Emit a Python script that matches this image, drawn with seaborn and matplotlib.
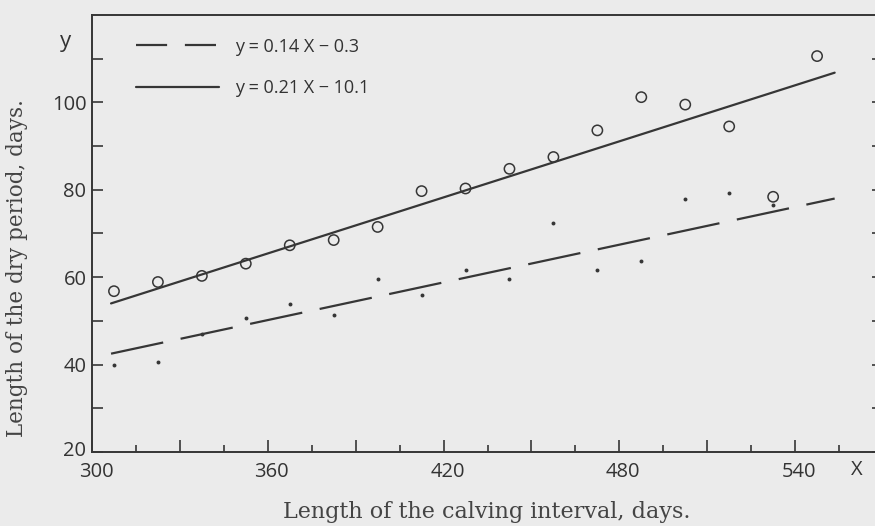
#!/usr/bin/env python3

import pandas as pd
import matplotlib.pyplot as plt
from matplotlib.lines import Line2D
from matplotlib.ticker import MultipleLocator, FixedLocator
from matplotlib.transforms import ScaledTranslation
import seaborn as sns

# calving interval class midpoints, days
interval = [307.5, 322.5, 337.5, 352.5, 367.5, 382.5, 397.5, 412.5, 427.5,
            442.5, 457.5, 472.5, 487.5, 502.5, 517.5, 532.5, 547.5]
# open circles
dry_open = [56.8, 58.9, 60.3, 63.1, 67.3, 68.5, 71.5, 79.7, 80.3,
            84.8, 87.5, 93.6, 101.2, 99.5, 94.5, 78.4, 110.6]
# small dots (no dot for the last class)
interval_dots = interval[:16]
dry_dots = [40.0, 40.5, 47.1, 50.7, 53.8, 51.4, 59.5, 55.9, 61.6,
            59.5, 72.5, 61.6, 63.7, 77.8, 79.3, 76.5]

# fitted lines, end points
fit_x = [306.5, 553.5]
fit_solid = [54.0, 106.8]
fit_dashed = [42.5, 78.0]

label_solid = "y = 0.21 X \u2212 10.1"
label_dashed = "y = 0.14 X \u2212 0.3"

INK = "#363636"
BG = "#ebebeb"
DASH = (0, (24, 8))


def main():
    sns.set_style("ticks")
    plt.rcParams["font.family"] = ["Open Sans", "DejaVu Sans"]

    fig = plt.figure(figsize=(8.75, 5.26), dpi=100, facecolor=BG)
    ax = fig.add_axes([92 / 875, 1 - 452 / 526, 791 / 875, 437 / 526])
    ax.set_facecolor(BG)

    circles = pd.DataFrame({"x": interval, "y": dry_open})
    dots = pd.DataFrame({"x": interval_dots, "y": dry_dots})

    sns.lineplot(x=fit_x, y=fit_solid, ax=ax, color=INK, linewidth=1.6)
    sns.lineplot(x=fit_x, y=fit_dashed, ax=ax, color=INK, linewidth=1.6,
                 linestyle=DASH)
    sns.scatterplot(data=circles, x="x", y="y", ax=ax, marker="o", s=55,
                    facecolor="none", edgecolor=INK, linewidth=1.1, zorder=3)
    sns.scatterplot(data=dots, x="x", y="y", ax=ax, marker="o", s=8,
                    color=INK, edgecolor=INK, linewidth=0, zorder=3)

    ax.set_xlim(300, 570)
    ax.set_ylim(20, 120)

    ax.set_xticks(range(300, 571, 30))
    ax.set_xticklabels([str(v) if v % 60 == 0 and v < 570 else ""
                        for v in range(300, 571, 30)])
    ax.xaxis.set_minor_locator(MultipleLocator(15))
    ax.set_yticks(range(20, 101, 20))
    ax.yaxis.set_minor_locator(FixedLocator(range(30, 120, 10)))

    ax.tick_params(axis="x", which="major", direction="in", length=9,
                   width=1.2, color=INK, labelsize=14.5, labelcolor="#333333",
                   pad=7)
    ax.tick_params(axis="x", which="minor", direction="in", length=5,
                   width=1.2, color=INK)
    ax.tick_params(axis="y", which="both", direction="in", length=8,
                   width=1.2, color=INK, labelsize=14.5, labelcolor="#333333",
                   pad=4, right=True)

    # nudge labels the way the hand lettering sits
    shift_x = ScaledTranslation(4 / 100, 0, fig.dpi_scale_trans)
    for lab in ax.get_xticklabels():
        lab.set_transform(lab.get_transform() + shift_x)
    shift_20 = ScaledTranslation(0, 3 / 100, fig.dpi_scale_trans)
    first = ax.get_yticklabels()[0]
    first.set_transform(first.get_transform() + shift_20)

    for side in ["left", "right", "top", "bottom"]:
        ax.spines[side].set_visible(True)
        ax.spines[side].set_color(INK)
        ax.spines[side].set_linewidth(1.4)

    ax.set_xlabel("")
    ax.set_ylabel("")

    handles = [
        Line2D([], [], color=INK, linewidth=1.6, linestyle=(0, (14, 8))),
        Line2D([], [], color=INK, linewidth=1.6),
    ]
    ax.legend(handles, [label_dashed, label_solid], loc="upper left",
              bbox_to_anchor=(0.035, 0.985), frameon=False, fontsize=13,
              handlelength=4.6, handletextpad=0.9, labelspacing=1.3,
              labelcolor="#333333")

    fig.text(487 / 875, 1 - 512 / 526, "Length of the calving interval, days.",
             family="DejaVu Serif", fontsize=16, color="#444444",
             ha="center", va="center")
    fig.text(17 / 875, 1 - 268 / 526, "Length of the dry period, days.",
             family="DejaVu Serif", fontsize=15.5, color="#444444",
             ha="center", va="center", rotation=90)
    fig.text(65 / 875, 1 - 42 / 526, "y", fontsize=16, color="#333333",
             ha="center", va="center")
    fig.text(857 / 875, 1 - 470 / 526, "X", fontsize=14.5, color="#333333",
             ha="center", va="center")

    fig.savefig("out.png", dpi=100, facecolor=BG)
    plt.close(fig)


if __name__ == "__main__":
    main()
